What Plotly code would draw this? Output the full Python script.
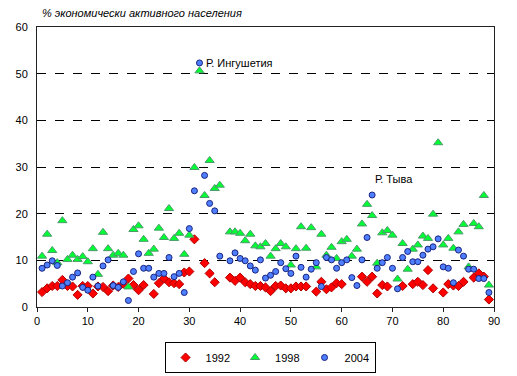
import plotly.graph_objects as go

regions = list(range(1, 90))

v1992 = [3.2, 4.0, 4.5, 4.5, 5.8, 4.5, 4.4, 2.6, 4.5, 4.5,
         2.9, 4.4, 4.3, 3.4, 4.6, 4.3, 5.0, 6.1, 4.7, 3.6,
         4.7, None, 2.8, 5.1, 6.1, 5.3, 5.1, 4.9, 7.4, 7.6,
         14.5, None, 9.4, 7.2, 5.3, None, None, 6.3, 5.6, 6.3,
         5.3, 4.9, 4.5, 4.5, 4.2, 3.4, 4.5, 4.6, 4.0, 4.0,
         4.4, 4.4, 4.4, None, 3.3, 5.4, 3.8, 4.2, 5.1, 4.9,
         None, None, None, 6.5, 5.4, 6.5, 2.9, 4.7, 4.4, None,
         None, 4.5, None, 4.9, 5.4, 4.7, 7.9, 4.0, None, 3.1,
         4.9, 4.6, 4.5, 5.4, None, 6.3, 7.2, 6.5, 1.6]

v1998 = [10.9, 15.6, 12.1, 9.5, 18.5, 10.2, 11.1, 10.2, 10.8, 9.7,
         12.5, 7.0, 16.0, 12.5, 11.1, 11.5, 11.1, 4.3, 16.6, 17.4,
         14.5, 11.5, 12.4, 16.9, 14.9, 21.1, 14.7, 15.8, 11.3, 15.4,
         29.9, 50.6, 23.9, 31.4, 25.4, 26.1, None, 16.1, 16.1, 15.8,
         14.2, 15.6, 13.1, 12.9, 13.6, 10.9, 12.5, 13.6, 12.9, 9.0,
         12.5, 17.2, 12.6, 17.0, 8.6, 15.6, 11.1, 12.8, 10.4, 14.0,
         14.5, 10.9, 12.4, 17.8, 22.0, 19.6, 9.4, 15.9, 16.4, 15.4,
         6.0, 13.6, 8.1, 12.4, 13.3, 15.2, 14.7, 19.9, 35.2, 13.3,
         14.7, 12.6, 16.1, 17.7, 8.6, 17.9, 17.2, 23.9, 4.7]

v2004 = [8.3, 9.0, 9.9, 8.9, 4.5, 5.2, 6.4, 7.3, 4.2, 3.6,
         6.4, 4.5, 8.8, 10.1, 4.6, 4.2, 5.4, 1.4, 7.6, 11.4,
         8.3, 8.3, 6.4, 7.2, 7.2, 10.6, 6.5, 7.2, 3.1, 16.8,
         24.9, 52.3, 28.2, 22.2, 20.6, 10.9, None, 9.9, 11.6, 10.4,
         9.9, 8.8, 7.9, 10.1, 6.2, 6.8, 7.6, 9.5, 8.2, 7.2,
         10.9, 8.5, 6.4, 8.1, 9.5, 4.4, 10.6, 10.1, 8.3, 9.5,
         10.1, 6.3, 4.6, 10.1, 14.9, 24.0, 8.3, 9.5, 10.6, 8.3,
         3.9, 10.6, 11.9, 9.7, 9.7, 11.1, 12.4, 12.9, 14.6, 8.6,
         8.3, 5.2, 12.2, 10.9, 8.1, 8.1, 6.1, 6.1, 3.1]

x_ticks = [0, 10, 20, 30, 40, 50, 60, 70, 80, 90]
y_ticks = [0, 10, 20, 30, 40, 50, 60]

FONT = "Arial, Liberation Sans, sans-serif"

fig = go.Figure()
fig.add_trace(go.Scatter(
    x=regions, y=v1992, mode="markers", name="1992",
    marker=dict(symbol="diamond", size=7, color="#ff0000",
                line=dict(color="#b00000", width=1))))
fig.add_trace(go.Scatter(
    x=regions, y=v1998, mode="markers", name="1998",
    marker=dict(symbol="triangle-up", size=8, color="#00ff33",
                line=dict(color="#4a9a6a", width=1))))
fig.add_trace(go.Scatter(
    x=regions, y=v2004, mode="markers", name="2004",
    marker=dict(symbol="circle", size=6, color="#4d7fff",
                line=dict(color="#1a237e", width=1))))

fig.add_annotation(x=32, y=52.3, text="Р. Ингушетия", showarrow=False,
                   xanchor="left", yanchor="middle", xshift=5,
                   font=dict(family=FONT, size=11, color="black"))
fig.add_annotation(x=66, y=27.5, text="Р. Тыва", showarrow=False,
                   xanchor="left", yanchor="middle", xshift=1,
                   font=dict(family=FONT, size=11, color="black"))
fig.add_annotation(xref="paper", yref="paper", x=0.006, y=1.05,
                   text="<i>% экономически активного населения</i>",
                   showarrow=False, xanchor="left", yanchor="middle",
                   font=dict(family=FONT, size=11, color="black"))

# page body has an 8px margin, so the figure is sized to fit the 517x376 view
fig.update_layout(
    width=509, height=368,
    margin=dict(l=29, r=23, t=19, b=69, autoexpand=False),
    paper_bgcolor="white", plot_bgcolor="white",
    font=dict(family=FONT, size=11, color="black"),
    legend=dict(orientation="h", x=0.51, xanchor="center",
                y=-0.125, yanchor="top",
                bordercolor="black", borderwidth=1,
                font=dict(family=FONT, size=11),
                tracegroupgap=0),
    showlegend=True,
)
fig.update_xaxes(range=[0, 90], tickvals=x_ticks, showgrid=False,
                 zeroline=False, showline=True, linecolor="#222",
                 linewidth=1, mirror=True, ticks="outside", ticklen=4,
                 tickcolor="#222")
fig.update_yaxes(range=[0, 60], tickvals=y_ticks, showgrid=True,
                 gridcolor="black", griddash="dash", gridwidth=1,
                 zeroline=False, showline=True, linecolor="#222",
                 linewidth=1, mirror=True, ticks="", ticklabelstandoff=6)

fig.write_html("out.html")
